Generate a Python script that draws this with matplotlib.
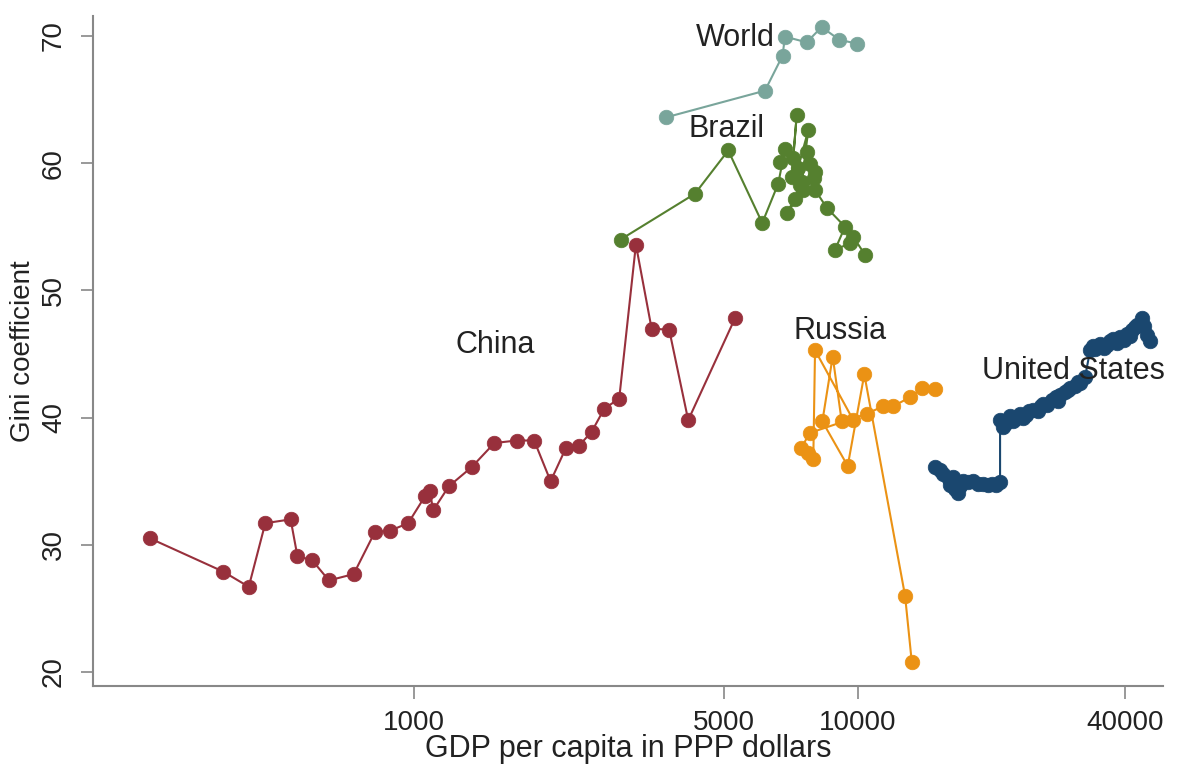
import matplotlib
matplotlib.use("Agg")
import matplotlib.pyplot as plt
from matplotlib.ticker import FixedLocator, NullLocator

plt.rcParams['font.family'] = ['Liberation Sans', 'DejaVu Sans']

# ---------------- data (GDP per capita PPP, Gini) ----------------
china_gdp = [255, 372, 425, 463, 528, 547, 590, 644, 732, 817, 883, 971, 1059, 1087,
             1105, 1199, 1349, 1518, 1703, 1866, 2032, 2199, 2356, 2515, 2684, 2900,
             3162, 3430, 3758, 4147, 5284]
china_gini = [30.5, 27.9, 26.7, 31.7, 32.0, 29.1, 28.8, 27.2, 27.7, 31.0, 31.1, 31.7, 33.8, 34.25,
              32.7, 34.6, 36.1, 38.0, 38.2, 38.2, 35.0, 37.6, 37.8, 38.9, 40.7, 41.5,
              53.6, 47.0, 46.9, 39.8, 47.8]

brazil_gdp = [2921, 4295, 5103, 6087, 6614, 6847, 6673, 7149, 7278, 7089, 7327, 7727, 7468,
              7662, 7798, 7950, 6907, 7212, 7518, 7400, 8003, 8003, 8503, 9349, 8877, 9594,
              9759, 10371]
brazil_gini = [54.0, 57.6, 61.0, 55.3, 58.4, 61.1, 60.1, 60.4, 63.8, 58.9, 59.6, 62.6, 58.5,
               60.9, 59.9, 58.8, 56.1, 57.2, 57.9, 58.3, 59.3, 57.9, 56.5, 55.0, 53.2, 53.7,
               54.2, 52.8]

world_gdp = [3695, 6173, 6763, 6847, 7662, 8282, 9077, 9935]
world_gini = [63.6, 65.7, 68.45, 69.95, 69.5, 70.7, 69.7, 69.4]

russia_gdp = [13213, 12762, 10332, 9480, 8312, 8770, 9190, 9759, 8003, 7931, 7727, 7441,
              7797, 10461, 11404, 12010, 13096, 13914, 14906]
russia_gini = [20.8, 26.0, 43.4, 36.2, 39.7, 44.8, 39.7, 39.8, 45.3, 36.75, 37.2, 37.6,
               38.8, 40.3, 40.9, 40.9, 41.6, 42.3, 42.25]

us_gdp = [14906, 15300, 15563, 16000, 16393, 16116, 16500, 16826, 17270, 17000, 17700, 18188,
          18650, 19152, 19600, 20004, 20450, 20884, 20884, 21150, 21400, 21994, 22300, 22600,
          23170, 23500, 23900, 24300, 24818, 25400, 25800, 26141, 26700, 27310, 27900, 28200,
          28510, 29300, 29700, 30030, 30800, 31200, 31623, 32455, 33310, 33800, 34200, 35075,
          35700, 36300, 36900, 37585, 38200, 38900, 39600, 40293, 40900, 41400, 42000, 42440,
          43550, 44100, 44690, 45470]
us_gini = [36.1, 35.9, 35.6, 35.2, 35.35, 34.7, 34.4, 34.05, 35.0, 34.6, 34.9, 35.0,
           34.8, 34.8, 34.7, 34.8, 34.7, 34.9, 39.8, 39.3, 39.5, 40.1, 39.7, 39.9,
           40.3, 40.0, 40.2, 40.5, 40.6, 40.5, 40.9, 41.1, 41.0, 41.4, 41.6, 41.3,
           41.8, 42.0, 42.2, 42.3, 42.5, 42.8, 42.7, 43.2, 45.3, 45.6, 45.4, 45.8,
           45.5, 45.7, 46.0, 46.2, 45.9, 46.3, 46.1, 46.6, 46.4, 46.9, 47.1, 47.3,
           47.8, 47.2, 46.5, 46.0]

x_ticks = [1000, 5000, 10000, 40000]
x_tick_labels = ["1000", "5000", "10000", "40000"]
y_ticks = [20, 30, 40, 50, 60, 70]

labels = ["World", "Brazil", "China", "Russia", "United States"]
label_x = [5284, 5070, 1522, 9100, 30500]
label_y = [69.85, 62.7, 45.7, 46.8, 43.7]

# ---------------- figure ----------------
fig = plt.figure(figsize=(11.8, 7.69), dpi=100)
ax = fig.add_axes([0.0792, 0.1079, 0.9064, 0.8713])
ax.set_xscale('log')
ax.set_xlim(190, 48600)
ax.set_ylim(18.9, 71.57)

ms = 10.5
series = [
    (us_gdp, us_gini, "#1a476f"),
    (russia_gdp, russia_gini, "#eb9214"),
    (brazil_gdp, brazil_gini, "#55802f"),
    (china_gdp, china_gini, "#98303c"),
    (world_gdp, world_gini, "#79a59b"),
]
for xs, ys, c in series:
    ax.plot(xs, ys, '-o', color=c, lw=1.5, ms=ms, mec=c, mew=0.5)

for t, lx, ly in zip(labels, label_x, label_y):
    ax.text(lx, ly, t, ha='center', va='center', fontsize=22, color='#222222')

ax.xaxis.set_major_locator(FixedLocator(x_ticks))
ax.xaxis.set_minor_locator(NullLocator())
ax.set_xticklabels(x_tick_labels)
ax.set_yticks(y_ticks)
for lab in ax.get_yticklabels():
    lab.set_rotation(90)
    lab.set_va('center')

ax.tick_params(axis='both', which='major', length=9, width=1.2, color='#888888',
               labelsize=20, labelcolor='#222222', pad=8)
ax.tick_params(axis='y', pad=10)

for s in ['top', 'right']:
    ax.spines[s].set_visible(False)
for s in ['left', 'bottom']:
    ax.spines[s].set_color('#888888')
    ax.spines[s].set_linewidth(1.5)

ax.set_xlabel("GDP per capita in PPP dollars", fontsize=22, color='#222222', labelpad=-1)
ax.set_ylabel("Gini coefficient", fontsize=20, color='#222222', labelpad=4)

fig.savefig("out.png", dpi=100)
